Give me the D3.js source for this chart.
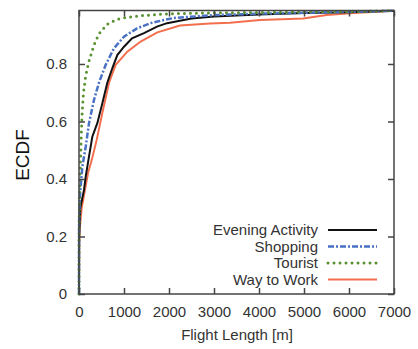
<!DOCTYPE html>
<html><head><meta charset="utf-8">
<script src="https://cdn.jsdelivr.net/npm/d3@7"></script>
<style>body{margin:0;background:#fff}svg{display:block}text{font-family:"Liberation Sans",Arial,sans-serif}</style>
</head><body><div id="chart"></div>
<script>
const seriesNames = ["Evening Activity","Shopping","Tourist","Way to Work"];
const xTicks = [0,1000,2000,3000,4000,5000,6000,7000];
const yTicks = [0,0.2,0.4,0.6,0.8];
const yTickLabels = ["0","0.2","0.4","0.6","0.8"];
const eveningX = [0,3,30,111,149,222,296,407,518,629,740,851,1000,1178,1444,1733,1956,2500,3000,4000,5000,6000,7000];
const eveningY = [0,0.2,0.3,0.362,0.408,0.478,0.547,0.594,0.663,0.735,0.785,0.831,0.86,0.889,0.907,0.93,0.942,0.958,0.965,0.972,0.977,0.98,0.985];
const shoppingX = [0,2,15,37,74,149,222,333,444,593,778,1000,1289,1593,1889,2111,3000,4000,5000,6000,7000];
const shoppingY = [0,0.25,0.33,0.373,0.443,0.512,0.594,0.675,0.735,0.797,0.855,0.895,0.924,0.942,0.953,0.96,0.97,0.975,0.978,0.981,0.985];
const touristX = [0,2,10,30,50,70,100,150,222,333,444,622,844,1067,1378,1733,2044,3000,4000,5000,6000,7000];
const touristY = [0,0.2,0.35,0.45,0.55,0.63,0.7,0.76,0.81,0.866,0.905,0.938,0.955,0.962,0.968,0.972,0.975,0.978,0.979,0.981,0.983,0.985];
const workX = [0,5,22,60,130,200,290,393,518,667,815,1074,1370,1741,2244,2911,3356,4022,4985,5504,6022,7000];
const workY = [0,0.18,0.234,0.3,0.36,0.42,0.47,0.536,0.629,0.735,0.797,0.843,0.878,0.91,0.934,0.941,0.943,0.953,0.958,0.97,0.976,0.985];

(function(){
const W=418,H=349;
const svg=d3.select("#chart").append("svg").attr("width",W).attr("height",H);
const x=d3.scaleLinear().domain([0,7000]).range([79,394]);
const y=d3.scaleLinear().domain([0,0.986]).range([294,10.5]);
const frame="#444", txt="#333";

const series=[
 {name:seriesNames[0],xs:eveningX,ys:eveningY,color:"#111",w:2,dash:null,cap:"butt"},
 {name:seriesNames[1],xs:shoppingX,ys:shoppingY,color:"#4a72c4",w:2.5,dash:"6,2,2,2",cap:"butt"},
 {name:seriesNames[2],xs:touristX,ys:touristY,color:"#5a9232",w:3,dash:"0,6",cap:"round"},
 {name:seriesNames[3],xs:workX,ys:workY,color:"#f26f4e",w:2,dash:null,cap:"butt"}
];
const line=d3.line().x(d=>x(d[0])).y(d=>y(d[1]));
const order=[3,0,1,2];
order.forEach(i=>{
  const s=series[i];
  svg.append("path").datum(s.xs.map((v,j)=>[v,s.ys[j]]))
    .attr("d",line).attr("fill","none").attr("stroke",s.color)
    .attr("stroke-width",s.w).attr("stroke-dasharray",s.dash).attr("stroke-linecap",s.cap);
});

svg.append("rect").attr("x",79).attr("y",10.5).attr("width",394-79).attr("height",294-10.5)
  .attr("fill","none").attr("stroke",frame).attr("stroke-width",1.5);

const axB=d3.axisBottom(x).tickValues(xTicks).tickSize(-6).tickPadding(12).tickFormat(d3.format("d"));
const gb=svg.append("g").attr("transform","translate(0,294)").call(axB);
const axT=d3.axisTop(x).tickValues(xTicks).tickSize(-6).tickFormat("");
const gt=svg.append("g").attr("transform","translate(0,10.5)").call(axT);
const axL=d3.axisLeft(y).tickValues(yTicks).tickSize(-6).tickPadding(12).tickFormat((d,i)=>yTickLabels[i]);
const gl=svg.append("g").attr("transform","translate(79,0)").call(axL);
const axR=d3.axisRight(y).tickValues(yTicks).tickSize(-6).tickFormat("");
const gr=svg.append("g").attr("transform","translate(394,0)").call(axR);
[gb,gt,gl,gr].forEach(g=>{
  g.select(".domain").remove();
  g.selectAll(".tick line").attr("stroke",frame).attr("stroke-width",1.5);
  g.selectAll(".tick text").attr("fill",txt).style("font-size","15px");
});

svg.append("text").attr("x",237).attr("y",340).attr("text-anchor","middle")
  .attr("fill",txt).style("font-size","15px").text("Flight Length [m]");
svg.append("text").attr("transform","translate(29,155) rotate(-90)").attr("text-anchor","middle")
  .attr("fill","#111").style("font-size","19px").text("ECDF");

const ly=[230,246.5,263,279.5];
series.forEach((s,i)=>{
  svg.append("text").attr("x",318).attr("y",ly[i]).attr("dy","0.35em").attr("text-anchor","end")
    .attr("fill",txt).style("font-size","15px").text(s.name);
  svg.append("line").attr("x1",328).attr("x2",377).attr("y1",ly[i]).attr("y2",ly[i])
    .attr("stroke",s.color).attr("stroke-width",s.w).attr("stroke-dasharray",s.dash).attr("stroke-linecap",s.cap);
});
})();
</script></body></html>
